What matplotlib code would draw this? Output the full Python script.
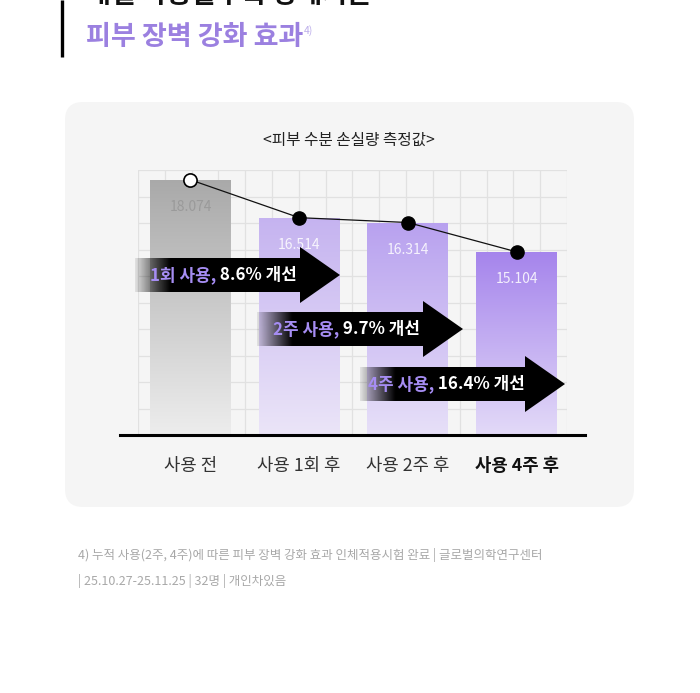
import numpy as np
import matplotlib.pyplot as plt
from matplotlib.patches import FancyBboxPatch, Polygon
from matplotlib.colors import to_rgb
from matplotlib.transforms import blended_transform_factory

plt.rcParams['font.family'] = ['Noto Sans CJK KR', 'DejaVu Sans']

# data
categories = ['사용 전', '사용 1회 후', '사용 2주 후', '사용 4주 후']
values = [18.074, 16.514, 16.314, 15.104]
use_labels = ['1회 사용,', '2주 사용,', '4주 사용,']
chart_title = '<피부 수분 손실량 측정값>'
heading_cut = '매일 사용할수록 강해지는'
heading = '피부 장벽 강화 효과'
footnote = ['4) 누적 사용(2주, 4주)에 따른 피부 장벽 강화 효과 인체적용시험 완료 | 글로벌의학연구센터',
            '| 25.10.27-25.11.25 | 32명 | 개인차있음']

# improvement vs. before use
improve = [(values[0] - v) / values[0] * 100 for v in values[1:]]

top_colors = ['#a9a9a9', '#c5b3f0', '#b8a1ef', '#a584ec']
bottom_colors = ['#ededed', '#ebe5f8', '#e7e0f8', '#e3daf8']

fig = plt.figure(figsize=(7, 6.93), dpi=100)
fig.patch.set_facecolor('white')

# background layer in pixel coords
bg = fig.add_axes([0, 0, 1, 1], zorder=0)
bg.set_xlim(0, 700)
bg.set_ylim(693, 0)
bg.axis('off')

bg.add_patch(FancyBboxPatch((65, 102), 569, 405, boxstyle='round,pad=0,rounding_size=18',
                            fc='#f5f5f5', ec='none'))
bg.plot([61.5, 61.5], [0, 57], color='black', lw=2.4, solid_capstyle='butt')
bg.text(86, 3, heading_cut, fontsize=19.5, fontweight='bold', color='#111111', va='baseline')
h = bg.text(86, 37, heading, fontsize=19.5, fontweight='bold', color='#9b80e0', va='center')
bg.annotate('4)', xy=(1, 0.72), xycoords=h, fontsize=7.5, color='#bcaeea', va='center', ha='left')
bg.text(349, 140, chart_title, fontsize=11.3, ha='center', va='center', color='#222222')
bg.text(78, 555, footnote[0], fontsize=9.0, color='#a8a8a8', va='center')
bg.text(78, 581, footnote[1], fontsize=9.0, color='#a8a8a8', va='center')

# chart
ax = fig.add_axes([138 / 700, (693 - 435) / 693, 429 / 700, 265 / 693], zorder=1)
ax.set_facecolor('none')
for s in ax.spines.values():
    s.set_visible(False)

x = np.arange(len(values))
x0, x1 = -0.483, 3.464
y0, y1 = 7.55, 18.48
width = 0.745

ax.set_xticks(np.linspace(x0, x1, 17))
ax.set_yticks(np.linspace(y0, y1, 11))
ax.grid(True, color='#e1e1e1', lw=0.9)
ax.set_axisbelow(True)
ax.tick_params(length=0, labelbottom=False, labelleft=False)

bars = ax.bar(x, values, width=width, facecolor='none', edgecolor='none', zorder=1)
t = np.linspace(0, 1, 256)[:, None, None]
for i, b in enumerate(bars):
    c_top = np.array(to_rgb(top_colors[i]))
    c_bot = np.array(to_rgb(bottom_colors[i]))
    grad = c_top * (1 - t) + c_bot * t
    im = ax.imshow(grad, extent=(b.get_x(), b.get_x() + width, y0, values[i]),
                   aspect='auto', origin='upper', zorder=1, interpolation='bicubic')
    im.set_clip_path(b)

ax.set_xlim(x0, x1)
ax.set_ylim(y0, y1)

ax.plot(x, values, color='#111111', lw=0.9, zorder=3)
ax.plot(x[:1], values[:1], 'o', mfc='white', mec='black', ms=9.5, mew=1.2, zorder=4, clip_on=False)
ax.plot(x[1:], values[1:], 'o', color='black', ms=9.5, zorder=4, clip_on=False)

for i, v in enumerate(values):
    col = '#9a9a9a' if i == 0 else (1, 1, 1, 0.85)
    ax.annotate(f'{v:.3f}', (x[i], v), xytext=(0, -19.5), textcoords='offset points',
                ha='center', va='center', fontsize=10, color=col, zorder=2)

ax.axhline(y0, xmin=-0.042, xmax=1.042, color='black', lw=2.2, clip_on=False, zorder=5)

trans = blended_transform_factory(ax.transData, ax.transAxes)
for i, lab in enumerate(categories):
    last = i == len(categories) - 1
    ax.text(x[i], -0.118, lab, transform=trans, ha='center', va='center', fontsize=12.8,
            fontweight='bold' if last else 'normal', color='#111111' if last else '#333333')

# arrows on top
fg = fig.add_axes([0, 0, 1, 1], zorder=3)
fg.set_xlim(0, 700)
fg.set_ylim(693, 0)
fg.axis('off')
fg.patch.set_alpha(0)

arrow_left = [135, 257, 360]
arrow_tip = [340, 463, 565]
arrow_cy = [275, 329, 384]
text_left = [150, 273, 368]

for i in range(3):
    L, T, cy = arrow_left[i], arrow_tip[i], arrow_cy[i]
    verts = [(L, cy - 17), (T - 40, cy - 17), (T - 40, cy - 28), (T, cy),
             (T - 40, cy + 28), (T - 40, cy + 17), (L, cy + 17)]
    poly = Polygon(verts, closed=True, fc='none', ec='none')
    fg.add_patch(poly)
    xs = np.linspace(L, T, 400)
    alpha = np.clip(0.08 + (xs - L) / 38, 0, 1)
    img = np.zeros((1, len(xs), 4))
    img[0, :, 3] = alpha
    im = fg.imshow(img, extent=(L, T, cy + 28, cy - 28), aspect='auto', interpolation='bilinear')
    im.set_clip_path(poly)
    t1 = fg.text(text_left[i], cy, use_labels[i], color='#a68df3', fontsize=12.2,
                 fontweight='bold', ha='left', va='center')
    fg.annotate(f' {improve[i]:.1f}% 개선', xy=(1, 0.5), xycoords=t1, color='white',
                fontsize=12.2, fontweight='bold', ha='left', va='center')
fg.set_xlim(0, 700)
fg.set_ylim(693, 0)

fig.savefig('out.png', dpi=100)
